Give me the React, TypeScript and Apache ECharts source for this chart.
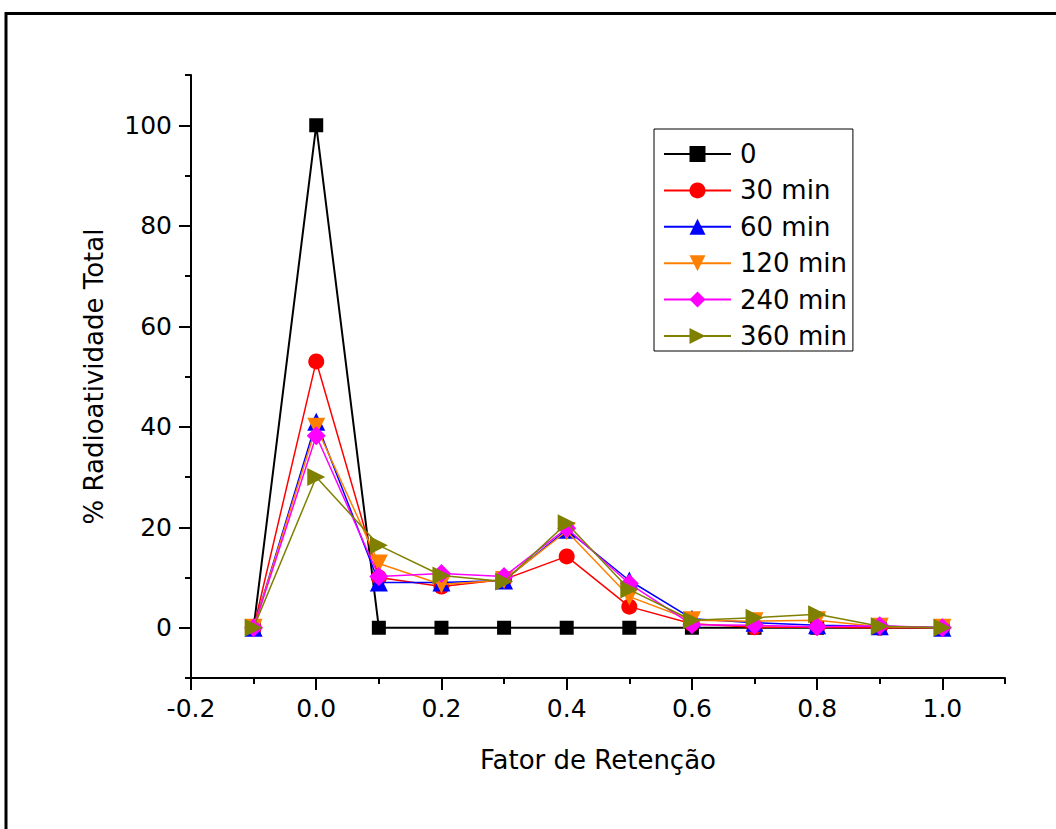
import React, { useEffect, useRef } from "react";
import * as echarts from "echarts";

const xValues = [-0.1, 0, 0.1, 0.2, 0.3, 0.4, 0.5, 0.6, 0.7, 0.8, 0.9, 1.0];
const s0 = [0, 100, 0, 0, 0, 0, 0, 0, 0, 0, 0, 0];
const s30 = [0, 53, 10, 8.2, 9.6, 14.2, 4.2, 0.8, 0.1, 0.1, 0, 0];
const s60 = [0, 41, 9, 9, 9.4, 19.5, 9.4, 1.8, 1.0, 0.5, 0.3, 0];
const s120 = [0, 40, 12.8, 8.6, 9.5, 19.2, 6.2, 1.5, 1.3, 1.5, 0.2, 0];
const s240 = [0, 38.2, 10.2, 10.8, 10.2, 19.8, 8.8, 0.6, 0.5, 0.2, 0.4, 0];
const s360 = [0, 30, 16.4, 10.4, 9.2, 20.8, 7.6, 1.5, 2.0, 2.7, 0.3, 0];

const seriesNames = ["0", "30 min", "60 min", "120 min", "240 min", "360 min"];
const seriesColors = ["#000000", "#FF0000", "#0000FF", "#FF8000", "#FF00FF", "#808000"];

const xMajorTicks = [-0.2, 0, 0.2, 0.4, 0.6, 0.8, 1.0];
const xMinorTicks = [-0.1, 0.1, 0.3, 0.5, 0.7, 0.9, 1.1];
const yMajorTicks = [0, 20, 40, 60, 80, 100];
const yMinorTicks = [-10, 10, 30, 50, 70, 90, 110];

const FONT = "DejaVu Sans";

export default function App() {
  const ref = useRef<HTMLDivElement>(null);
  useEffect(() => {
    if (!ref.current) return;
    const chart = echarts.init(ref.current, undefined, { renderer: "svg" });
    const allData = [s0, s30, s60, s120, s240, s360];
    const symbols = ["rect", "circle", "triangle", "triangle", "diamond", "triangle"];
    const rotates = [0, 0, 0, 180, 0, -90];
    const sizes = [14, 16, 18, 18, 19, 18];
    const axisCommon = {
      type: "value" as const,
      splitLine: { show: false },
    };
    chart.setOption({
      animation: false,
      backgroundColor: "#ffffff",
      textStyle: { fontFamily: FONT },
      grid: { left: 191, top: 75, right: 51, bottom: 151, containLabel: false },
      graphic: [
        {
          type: "rect",
          shape: { x: 6, y: 13.5, width: 1100, height: 900 },
          style: { fill: "none", stroke: "#000", lineWidth: 3 },
          silent: true,
        },
      ],
      legend: {
        orient: "vertical",
        left: 654,
        top: 129,
        padding: [12, 6, 2, 9],
        borderColor: "#000",
        borderWidth: 1,
        itemWidth: 67,
        itemHeight: 20,
        itemGap: 10.4,
        textStyle: { fontFamily: FONT, fontSize: 26, color: "#000", padding: [0, 0, 0, 4], lineHeight: 26 },
        data: seriesNames,
      },
      xAxis: [
        {
          ...axisCommon,
          min: -0.2,
          max: 1.1,
          name: "Fator de Retenção",
          nameLocation: "middle",
          nameGap: 69,
          nameTextStyle: { fontFamily: FONT, fontSize: 26, color: "#000" },
          axisLine: { show: true, onZero: false, lineStyle: { color: "#000", width: 2 } },
          axisTick: { show: true, customValues: xMajorTicks, length: 12, lineStyle: { width: 2, color: "#000" } },
          axisLabel: {
            customValues: xMajorTicks,
            margin: 18,
            fontFamily: FONT,
            fontSize: 25,
            color: "#000",
            formatter: (v: number) => v.toFixed(1),
          },
        },
        {
          ...axisCommon,
          min: -0.2,
          max: 1.1,
          position: "bottom",
          axisLine: { show: false, onZero: false },
          axisTick: { show: true, customValues: xMinorTicks, length: 6, lineStyle: { width: 2, color: "#000" } },
          axisLabel: { show: false },
        },
      ],
      yAxis: [
        {
          ...axisCommon,
          min: -10,
          max: 110,
          name: "% Radioatividade Total",
          nameLocation: "middle",
          nameGap: 84,
          nameTextStyle: { fontFamily: FONT, fontSize: 26, color: "#000" },
          axisLine: { show: true, onZero: false, lineStyle: { color: "#000", width: 2 } },
          axisTick: { show: true, customValues: yMajorTicks, length: 12, lineStyle: { width: 2, color: "#000" } },
          axisLabel: {
            customValues: yMajorTicks,
            margin: 19,
            fontFamily: FONT,
            fontSize: 25,
            color: "#000",
          },
        },
        {
          ...axisCommon,
          min: -10,
          max: 110,
          position: "left",
          axisLine: { show: false, onZero: false },
          axisTick: { show: true, customValues: yMinorTicks, length: 6, lineStyle: { width: 2, color: "#000" } },
          axisLabel: { show: false },
        },
      ],
      series: allData.map((d, i) => ({
        name: seriesNames[i],
        type: "line",
        xAxisIndex: 0,
        yAxisIndex: 0,
        data: d.map((v, j) => [xValues[j], v]),
        symbol: symbols[i],
        symbolRotate: rotates[i],
        symbolSize: sizes[i],
        showAllSymbol: true,
        color: seriesColors[i],
        itemStyle: { color: seriesColors[i] },
        lineStyle: { color: seriesColors[i], width: i === 0 ? 2 : 1.5 },
        z: 2 + i,
      })),
    });
    return () => chart.dispose();
  }, []);
  return (
    <div
      ref={ref}
      style={{ position: "fixed", left: 0, top: 0, width: 1056, height: 829, background: "#fff" }}
    />
  );
}
